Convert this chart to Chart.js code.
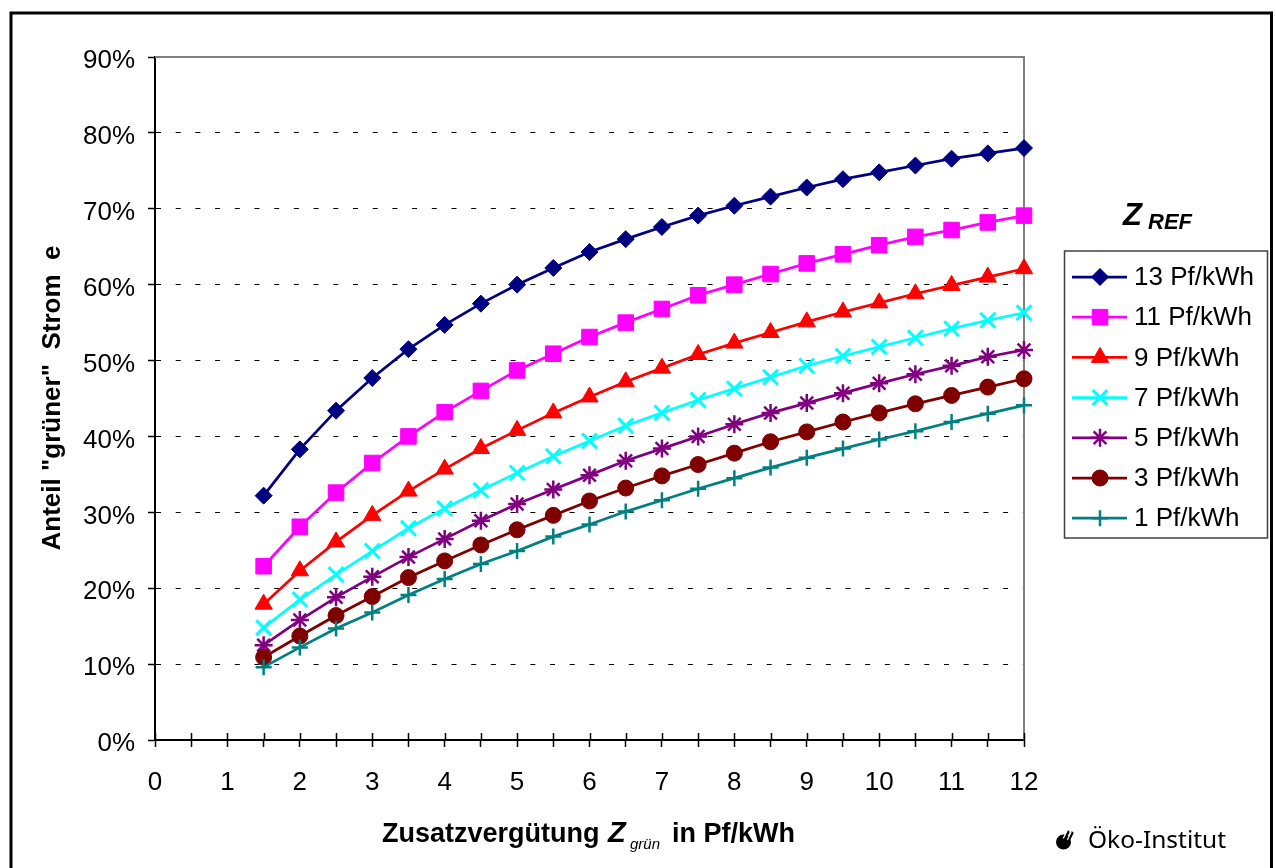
<!DOCTYPE html>
<html lang="de">
<head>
<meta charset="UTF-8" />
<title>Anteil grüner Strom</title>
<script src="https://cdn.jsdelivr.net/npm/chart.js"></script>
<style>
  html, body { margin: 0; padding: 0; background: #fff; }
  canvas { display: block; }
</style>
</head>
<body>
<canvas id="gruenChart" width="1276" height="868"></canvas>
<script>
// Zusatzvergütung Z_grün in Pf/kWh (x-Werte)
const zGruen = [1.5, 2, 2.5, 3, 3.5, 4, 4.5, 5, 5.5, 6, 6.5, 7, 7.5, 8, 8.5, 9, 9.5, 10, 10.5, 11, 11.5, 12];

// Anteil "grüner" Strom in %, je Z_REF
const ref13 = [32.2, 38.3, 43.4, 47.7, 51.5, 54.7, 57.5, 60.0, 62.2, 64.3, 66.0, 67.6, 69.1, 70.4, 71.6, 72.8, 73.9, 74.8, 75.7, 76.6, 77.3, 78.0];
const ref11 = [22.9, 28.1, 32.6, 36.5, 40.0, 43.2, 46.0, 48.7, 50.9, 53.1, 55.0, 56.8, 58.6, 60.0, 61.4, 62.8, 64.0, 65.2, 66.3, 67.2, 68.2, 69.1];
const ref9 = [17.9, 22.3, 26.1, 29.6, 32.8, 35.7, 38.4, 40.8, 43.1, 45.2, 47.2, 49.0, 50.8, 52.3, 53.7, 55.1, 56.4, 57.6, 58.8, 59.9, 61.0, 62.1];
const ref7 = [14.8, 18.5, 21.8, 24.9, 27.9, 30.5, 32.9, 35.2, 37.4, 39.4, 41.4, 43.1, 44.8, 46.3, 47.8, 49.3, 50.6, 51.8, 53.0, 54.2, 55.3, 56.3];
const ref5 = [12.5, 15.8, 18.8, 21.5, 24.1, 26.5, 28.9, 31.1, 33.0, 34.9, 36.8, 38.4, 40.0, 41.6, 43.1, 44.4, 45.7, 47.0, 48.2, 49.3, 50.5, 51.4];
const ref3 = [10.9, 13.7, 16.4, 18.9, 21.4, 23.6, 25.7, 27.7, 29.6, 31.5, 33.2, 34.8, 36.3, 37.8, 39.3, 40.6, 41.9, 43.1, 44.3, 45.4, 46.5, 47.6];
const ref1 = [9.6, 12.2, 14.7, 16.8, 19.1, 21.2, 23.2, 24.9, 26.8, 28.4, 30.1, 31.6, 33.1, 34.5, 35.9, 37.2, 38.4, 39.6, 40.7, 41.9, 43.0, 44.1];

const seriesNames = ["13 Pf/kWh", "11 Pf/kWh", "9 Pf/kWh", "7 Pf/kWh", "5 Pf/kWh", "3 Pf/kWh", "1 Pf/kWh"];
const seriesValues = [ref13, ref11, ref9, ref7, ref5, ref3, ref1];

// Aussehen der Reihen (Farbe, Markierung)
const styles = [
  { color: "#000080", point: "rectRot", r: 8.5, bw: 1 },
  { color: "#ff00ff", point: "rect", r: 11, bw: 1 },
  { color: "#ff0000", point: "triangle", r: 10, bw: 1 },
  { color: "#00ffff", point: "crossRot", r: 10.5, bw: 3 },
  { color: "#800080", point: "star", r: 9, bw: 2.5 },
  { color: "#800000", point: "circle", r: 8, bw: 1 },
  { color: "#008080", point: "cross", r: 8, bw: 2.5 },
];

const FONT = '"Liberation Sans", Arial, sans-serif';
Chart.defaults.font.family = FONT;
Chart.defaults.color = "#000";

const datasets = seriesValues.map((vals, i) => ({
  label: seriesNames[i],
  data: vals.map((v, k) => ({ x: zGruen[k], y: v })),
  borderColor: styles[i].color,
  backgroundColor: styles[i].color,
  borderWidth: 2.75,
  pointStyle: styles[i].point,
  pointRadius: styles[i].r,
  pointBackgroundColor: styles[i].color,
  pointBorderColor: styles[i].color,
  pointBorderWidth: styles[i].bw,
  tension: 0,
  clip: false,
  order: i === 6 ? 0 : 7 - i, // untere Reihen oben zeichnen wie im Original
}));

const drawPoint =
  (Chart.helpers && Chart.helpers.drawPoint) ||
  function (ctx, o, x, y) {
    ctx.beginPath();
    ctx.arc(x, y, o.radius, 0, Math.PI * 2);
    ctx.fill();
  };

// Rahmen, Achsentitel, Legende, Logo
const rahmen = {
  id: "rahmen",
  beforeDatasetsDraw(chart) {
    const { ctx, chartArea: a, scales } = chart;
    ctx.save();
    // obere und rechte Begrenzung grau
    ctx.strokeStyle = "#808080";
    ctx.lineWidth = 2;
    ctx.beginPath();
    ctx.moveTo(a.left, a.top);
    ctx.lineTo(a.right, a.top);
    ctx.lineTo(a.right, a.bottom);
    ctx.stroke();
    // Teilstriche x-Achse kreuzen die Achse
    ctx.strokeStyle = "#000";
    ctx.lineWidth = 1.5;
    ctx.beginPath();
    for (let v = 0; v <= 12; v += 0.5) {
      const px = Math.round(scales.x.getPixelForValue(v)) + 0.5;
      ctx.moveTo(px, a.bottom - 7);
      ctx.lineTo(px, a.bottom);
    }
    ctx.stroke();
    ctx.restore();
  },
  afterDraw(chart) {
    const { ctx } = chart;
    ctx.save();

    // Außenrahmen
    ctx.strokeStyle = "#000";
    ctx.lineWidth = 3;
    ctx.strokeRect(11, 13, 1260.5, 900);

    // y-Achsentitel
    ctx.save();
    ctx.translate(60, 398);
    ctx.rotate(-Math.PI / 2);
    ctx.font = "bold 26px " + FONT;
    ctx.textAlign = "center";
    ctx.textBaseline = "alphabetic";
    ctx.fillStyle = "#000";
    ctx.fillText('Anteil "grüner"  Strom  e', 0, 0);
    ctx.restore();

    // x-Achsentitel mit Index
    ctx.fillStyle = "#000";
    ctx.textAlign = "left";
    ctx.textBaseline = "alphabetic";
    ctx.font = "bold 27px " + FONT;
    ctx.fillText("Zusatzvergütung", 382, 842);
    ctx.font = "italic bold 29px " + FONT;
    ctx.fillText("Z", 608, 842);
    ctx.font = "italic 15px " + FONT;
    ctx.fillText("grün", 630, 849);
    ctx.font = "bold 27px " + FONT;
    ctx.fillText("in Pf/kWh", 672, 842);

    // Legendentitel Z_REF
    ctx.font = "italic bold 31px " + FONT;
    ctx.fillText("Z", 1123, 225);
    ctx.font = "italic bold 22px " + FONT;
    ctx.fillText("REF", 1148, 229);

    // Legende
    ctx.fillStyle = "#fff";
    ctx.fillRect(1064.5, 251, 203, 287);
    ctx.strokeStyle = "#404040";
    ctx.lineWidth = 1.5;
    ctx.strokeRect(1064.5, 251, 203, 287);
    seriesNames.forEach((name, i) => {
      const y = 277 + i * 40.2;
      const s = styles[i];
      ctx.strokeStyle = s.color;
      ctx.lineWidth = 2.75;
      ctx.beginPath();
      ctx.moveTo(1072, y);
      ctx.lineTo(1127, y);
      ctx.stroke();
      ctx.fillStyle = s.color;
      ctx.lineWidth = s.bw;
      drawPoint(ctx, { pointStyle: s.point, radius: s.r, rotation: 0, borderWidth: s.bw }, 1100, y);
      ctx.fillStyle = "#000";
      ctx.font = "26px " + FONT;
      ctx.textBaseline = "middle";
      ctx.fillText(name, 1134, y + 1);
      ctx.textBaseline = "alphabetic";
    });

    // Öko-Institut Logo
    ctx.fillStyle = "#000";
    ctx.beginPath();
    ctx.arc(1063.5, 842, 7.5, 0, Math.PI * 2);
    ctx.fill();
    ctx.strokeStyle = "#000";
    ctx.lineWidth = 3;
    ctx.lineCap = "round";
    ctx.beginPath();
    ctx.moveTo(1065.5, 837);
    ctx.lineTo(1068, 832);
    ctx.moveTo(1069.5, 838);
    ctx.lineTo(1072, 833);
    ctx.stroke();
    ctx.strokeStyle = "#fff";
    ctx.lineWidth = 1.2;
    ctx.beginPath();
    ctx.moveTo(1063.5, 838);
    ctx.lineTo(1067, 831);
    ctx.moveTo(1067.5, 839.5);
    ctx.lineTo(1071, 832.5);
    ctx.stroke();

    ctx.fillStyle = "#000";
    ctx.font = '23px "Noto Sans", Lato, sans-serif';
    const txt = "Öko-Institut";
    const w = ctx.measureText(txt).width;
    ctx.save();
    ctx.translate(1088, 848);
    ctx.scale(138 / w, 1);
    ctx.fillText(txt, 0, 0);
    ctx.restore();

    ctx.restore();
  },
};

new Chart(document.getElementById("gruenChart").getContext("2d"), {
  type: "line",
  data: { datasets: datasets },
  options: {
    responsive: false,
    animation: false,
    devicePixelRatio: 1,
    events: [],
    layout: { padding: { top: 57, right: 252, left: 0, bottom: 0 } },
    plugins: {
      legend: { display: false },
      tooltip: { enabled: false },
    },
    scales: {
      x: {
        type: "linear",
        min: 0,
        max: 12,
        afterFit: (scale) => { scale.height = 128; },
        ticks: {
          stepSize: 0.5,
          autoSkip: false,
          maxRotation: 0,
          padding: 20,
          font: { size: 26 },
          callback: (v) => (Number.isInteger(v) ? String(v) : ""),
        },
        grid: {
          drawOnChartArea: false,
          drawTicks: true,
          tickLength: 7,
          tickColor: "#000",
          tickWidth: 1.5,
        },
        border: { display: true, color: "#000", width: 2 },
      },
      y: {
        min: 0,
        max: 90,
        afterFit: (scale) => { scale.width = 155; },
        ticks: {
          stepSize: 10,
          padding: 13,
          labelOffset: 4,
          font: { size: 26 },
          callback: (v) => v + "%",
        },
        grid: {
          color: (c) => (c.tick && (c.tick.value === 0 || c.tick.value === 90) ? "rgba(0,0,0,0)" : "#000"),
          lineWidth: 1,
          tickLength: 7,
          tickColor: "#000",
          tickWidth: 1.5,
          tickBorderDash: [],
        },
        border: { display: true, color: "#000", width: 2, dash: [5, 14.7] },
      },
    },
  },
  plugins: [rahmen],
});
</script>
</body>
</html>
